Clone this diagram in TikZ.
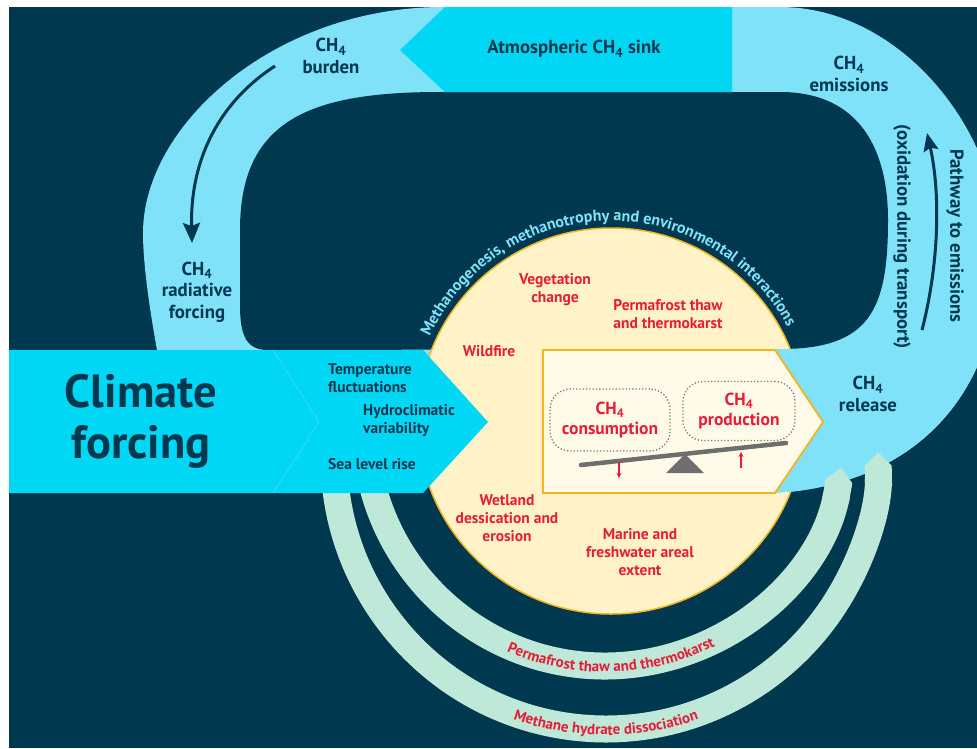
\documentclass[tikz,border=0pt]{standalone}
\usepackage{fontspec}
\setmainfont{PT Sans}
\usepackage{xcolor}
\usetikzlibrary{arrows.meta}
\usetikzlibrary{decorations.text}
\usetikzlibrary{math}
\usetikzlibrary{calc}

\definecolor{navy}{RGB}{0,56,80}
\definecolor{ltblue}{RGB}{128,226,248}
\definecolor{cyanband}{RGB}{0,215,245}
\definecolor{yellowc}{RGB}{255,243,199}
\definecolor{orangeb}{RGB}{246,180,30}
\definecolor{boxfill}{RGB}{255,251,232}
\definecolor{mint}{RGB}{190,232,215}
\definecolor{redtxt}{RGB}{232,28,54}
\definecolor{beam}{RGB}{110,110,110}
\definecolor{dotgray}{RGB}{125,125,125}

\newcommand{\chf}{CH\textsubscript{4}}
\newcommand{\arcfont}{\bfseries\fontsize{15}{17}\selectfont}
\newcommand{\toparcfont}{\bfseries\fontsize{16}{18}\selectfont}

\begin{document}
\begin{tikzpicture}[x=1pt,y=-1pt,
  lbl/.style={font=\bfseries\fontsize{15.5}{18}\selectfont, text=navy, align=center, inner sep=0pt},
  bigl/.style={lbl, font=\bfseries\fontsize{18.8}{21.5}\selectfont},
  redl/.style={lbl, text=redtxt},
  dotbox/.style={redl, draw=dotgray, dotted, line width=1.3pt, rounded corners=20pt,
    font=\bfseries\fontsize{17.5}{20}\selectfont},
  band/.style={mint, line width=27, -{Triangle Cap}},
  redarrow/.style={redtxt, line width=1.4pt, -{Stealth[length=5pt,width=5pt]}}]

  \tikzmath{
    \circr = 193; % radius of the yellow circle
    \innr  = 240; % radius of the inner mint band
    \outr  = 272; % radius of the outer mint band
  }

  % centres of the circle and of the two bands
  \coordinate (ctr)  at (611,421);
  \coordinate (ictr) at (605,426);
  \coordinate (octr) at (606,457);

  \useasboundingbox (0,0) rectangle (977,748);
  \fill[white] (0,0) rectangle (977,748);
  \fill[navy] (9,7) rectangle (977,748);

  \begin{scope}
  \clip (9,7) rectangle (977,748);

  % light blue loop
  \fill[ltblue] (157,362) -- (157,350) .. controls (148,300) and (143,260) .. (143,233)
    .. controls (143,125) and (275,7) .. (443,7) -- (780,7)
    .. controls (900,7) and (1000,130) .. (1000,250)
    .. controls (1000,400) and (910,485) .. (775,493) -- (700,493) -- (700,362) -- cycle;
  \fill[navy] (268,350) .. controls (246,350) and (240,335) .. (240,305) -- (240,230)
    .. controls (240,120) and (310,92) .. (440,92) -- (780,92)
    .. controls (860,92) and (888,150) .. (888,220)
    .. controls (888,310) and (870,349) .. (780,349) -- cycle;

  % atmospheric sink arrow
  \fill[cyanband] (400,50) -- (445,7) -- (732,7) -- (732,92) -- (445,92) -- cycle;

  % circle of interactions
  \draw[fill=yellowc, draw=orangeb, line width=1.5pt] (ctr) circle[radius=\circr];
  \path[decorate, decoration={text along path, text align=center, text color=ltblue,
    text={|\toparcfont|Methanogenesis, methanotrophy and environmental interactions}}]
    ($(ctr)+(190:200)$) arc[start angle=190, end angle=347, radius=200];

  % light blue over the right of the circle
  \begin{scope}
  \clip (775,349.5) rectangle (977,500);
  \fill[ltblue] (700,362) -- (700,340) -- (1000,340) -- (1000,250)
    .. controls (1000,400) and (910,485) .. (775,493) -- (700,493) -- cycle;
  \end{scope}

  % mint bands
  \draw[band] ($(ictr)+(175:\innr)$) arc[start angle=175, end angle=10, radius=\innr];
  \draw[band] ($(octr)+(185:\outr)$) arc[start angle=185, end angle=-1, radius=\outr];
  \path[decorate, decoration={text along path, text align=center, text color=redtxt,
    text={|\arcfont|Permafrost thaw and thermokarst}}]
    ($(ictr)+(128:246)$) arc[start angle=128, end angle=49, radius=246];
  \path[decorate, decoration={text along path, text align=center, text color=redtxt,
    text={|\arcfont|Methane hydrate dissociation}}]
    ($(octr)+(128:278)$) arc[start angle=128, end angle=52, radius=278];

  % climate forcing band
  \fill[cyanband] (9,350) -- (273,350) -- (319,422) -- (273,493) -- (9,493) -- cycle;
  \fill[cyanband] (273,350) -- (423,350) -- (488,422) -- (423,493) -- (273,493) -- (319,422) -- cycle;
  \draw[cyanband!75!white, line width=0.6pt] (273,350) -- (319,422) -- (273,493);

  % balance box
  \draw[fill=boxfill, draw=orangeb, line width=1.8pt]
    (543,350) -- (775,350) -- (823,422) -- (775,493) -- (543,493) -- cycle;
  \draw[beam, line width=4.5pt, line cap=round] (581,465) -- (786,443);
  \fill[beam] (685,454) -- (666,473) -- (704,473) -- cycle;
  \draw[redarrow] (619,462) -- (619,478);
  \draw[redarrow] (741,468) -- (741,452);
  \node[dotbox, minimum width=120pt, minimum height=62pt] (consume) at (610,420) {\chf\\consumption};
  \node[dotbox, minimum width=112pt, minimum height=59pt] (produce) at (739,411) {\chf\\production};
  \end{scope}

  % labels on the loop
  \node[bigl] (burden) at (331,56) {\chf\\burden};
  \node[bigl] (radf) at (197,292) {\chf\\radiative\\forcing};
  \node[bigl] (sink) at (574,49) {Atmospheric \chf{} sink};
  \node[bigl] (emis) at (849,74) {\chf\\emissions};
  \node[bigl] (release) at (868,394) {\chf\\release};
  \node[bigl, rotate=-90] (pathway) at (955,236) {Pathway to emissions};
  \node[bigl, rotate=-90] (oxid) at (902,237) {(oxidation during transport)};

  % arrows on the loop
  \coordinate (bstart) at (275,66);
  \coordinate (bend) at (192,243);
  \draw[navy, line width=3pt, -{Stealth[length=20pt,width=17pt,inset=3pt]}]
    (bstart) .. controls (215,105) and (190,165) .. (bend);
  \coordinate (pstart) at (922,330);
  \coordinate (pend) at (927,133);
  \draw[navy, line width=3pt, -{Stealth[length=18pt,width=15pt,inset=3pt]}]
    (pstart) .. controls (940,260) and (940,190) .. (pend);

  % climate forcing
  \node[lbl, font=\bfseries\fontsize{46.5}{51}\selectfont] (climate) at (141,421) {Climate\\forcing};
  \node[lbl, align=left, anchor=west] (temp) at (328,378) {Temperature\\fluctuations};
  \node[lbl, align=left, anchor=west] (hydro) at (363,421) {Hydroclimatic\\variability};
  \node[lbl, anchor=west] (sea) at (328,464) {Sea level rise};

  % drivers inside the circle
  \node[redl] (veg) at (555,290) {Vegetation\\change};
  \node[redl] (perma) at (668,314) {Permafrost thaw\\and thermokarst};
  \node[redl] (fire) at (489,351) {Wildfire};
  \node[redl] (wet) at (507,518) {Wetland\\dessication and\\erosion};
  \node[redl] (marine) at (640,552) {Marine and\\freshwater areal\\extent};

\end{tikzpicture}
\end{document}
